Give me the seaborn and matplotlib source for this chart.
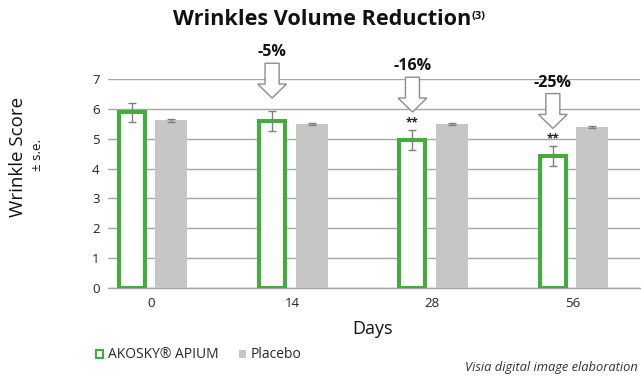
import matplotlib
matplotlib.use("Agg")
import matplotlib.pyplot as plt
import seaborn as sns
import pandas as pd
from matplotlib.patches import Patch, FancyArrow

# ---- data ----
days = ["0", "14", "28", "56"]
groups = ["AKOSKY® APIUM", "Placebo"]
akosky_mean = [5.90, 5.60, 4.97, 4.42]
akosky_se = [0.32, 0.32, 0.33, 0.33]
placebo_mean = [5.63, 5.50, 5.50, 5.39]
placebo_se = [0.05, 0.04, 0.04, 0.04]
reduction_labels = ["", "-5%", "-16%", "-25%"]
significance = ["", "", "**", "**"]

GREEN = "#3FAE3A"
GREY = "#C6C6C6"
GRID = "#A6A6A6"
ERR = "#7F7F7F"

df = pd.DataFrame({
    "Days": days * 2,
    "Score": akosky_mean + placebo_mean,
    "Group": [groups[0]] * 4 + [groups[1]] * 4,
})

sns.set_theme(style="white")
plt.rcParams["font.family"] = ["Open Sans", "DejaVu Sans"]

fig = plt.figure(figsize=(6.41, 3.76), dpi=100)
W, H = 641, 376
ax = fig.add_axes([108 / W, 1 - 287.7 / H, (640 - 108) / W, (287.7 - 79.3) / H])

sns.barplot(data=df, x="Days", y="Score", hue="Group", hue_order=groups,
            order=days, palette=[GREEN, GREY], width=0.564, gap=0.19,
            errorbar=None, legend=False, ax=ax)

# style bars
ak_bars = list(ax.containers[0])
pl_bars = list(ax.containers[1])
for p in ak_bars:
    c = p.get_x() + p.get_width() / 2
    w = p.get_width() * 0.81
    p.set_x(c - w / 2)
    p.set_width(w)
    p.set_facecolor("white")
    p.set_edgecolor(GREEN)
    p.set_linewidth(2.9)
    p.set_zorder(3)
for p in pl_bars:
    p.set_facecolor(GREY)
    p.set_edgecolor("none")
    p.set_zorder(3)

# error bars
ak_x = [p.get_x() + p.get_width() / 2 for p in ak_bars]
pl_x = [p.get_x() + p.get_width() / 2 for p in pl_bars]
ax.errorbar(ak_x, akosky_mean, yerr=akosky_se, fmt="none", ecolor=ERR,
            elinewidth=1, capsize=3, capthick=1, zorder=5)
ax.errorbar(pl_x, placebo_mean, yerr=placebo_se, fmt="none", ecolor=ERR,
            elinewidth=1, capsize=3, capthick=1, zorder=5)

ax.set_ylim(0, 7)
ax.set_xlim(-0.31, 3.48)
ax.set_yticks(range(0, 8))
ax.yaxis.grid(True, color=GRID, linewidth=1)
ax.xaxis.grid(False)
ax.set_axisbelow(True)
for s in ["top", "right", "left"]:
    ax.spines[s].set_visible(False)
ax.spines["bottom"].set_color(GRID)
ax.spines["bottom"].set_linewidth(1)
ax.tick_params(axis="both", length=0, labelsize=9.5, colors="#222222", pad=6)
ax.tick_params(axis="x", pad=7)
ax.set_xlabel("")
ax.set_ylabel("")

# arrows, percent labels and significance marks
arrow_len = 1.17
for i in range(len(days)):
    if not reduction_labels[i]:
        continue
    err_top = akosky_mean[i] + akosky_se[i]
    if significance[i]:
        ax.text(ak_x[i], err_top + 0.25, significance[i], ha="center",
                va="center", fontsize=8.5, fontweight="bold", color="#222222",
                zorder=6)
        y = err_top + 0.6
    else:
        y = err_top + 0.45
    top = y + arrow_len
    arr = FancyArrow(ak_x[i], top, 0, -arrow_len, width=0.1,
                     head_width=0.205, head_length=0.47,
                     length_includes_head=True, facecolor="white",
                     edgecolor="#8C8C8C", linewidth=1, clip_on=False,
                     zorder=6)
    ax.add_patch(arr)
    ax.text(ak_x[i], top + 0.37, reduction_labels[i], ha="center",
            va="center", fontsize=11.5, fontweight="bold", color="#111111",
            clip_on=False, zorder=6)

# titles and labels
fig.text(471 / W, 1 - 25 / H, "Wrinkles Volume Reduction", ha="right",
         va="baseline", fontsize=15.6, fontweight="bold", color="#111111")
fig.text(472 / W, 1 - 19 / H, "(3)", ha="left", va="baseline",
         fontsize=8, fontweight="bold", color="#111111")
fig.text(18.5 / W, 1 - 157 / H, "Wrinkle Score", rotation=90, ha="center",
         va="center", fontsize=13.5, color="#111111")
fig.text(37.5 / W, 1 - 155 / H, "± s.e.", rotation=90, ha="center",
         va="center", fontsize=9.5, color="#111111")
fig.text(372 / W, 1 - 329 / H, "Days", ha="center", va="center",
         fontsize=13, color="#111111")
fig.text(638 / W, 1 - 368 / H, "Visia digital image elaboration",
         ha="right", va="center", fontsize=9.3, style="italic",
         color="#333333")

handles = [Patch(facecolor="white", edgecolor=GREEN, linewidth=1.5),
           Patch(facecolor=GREY, edgecolor="none")]
fig.legend(handles, groups, loc="center left",
           bbox_to_anchor=(96 / W, 1 - 355 / H), ncol=2, frameon=False,
           fontsize=10, handlelength=0.5, handleheight=0.5,
           handletextpad=0.4, columnspacing=1.4, borderpad=0,
           borderaxespad=0)

fig.savefig("out.png", dpi=100)
